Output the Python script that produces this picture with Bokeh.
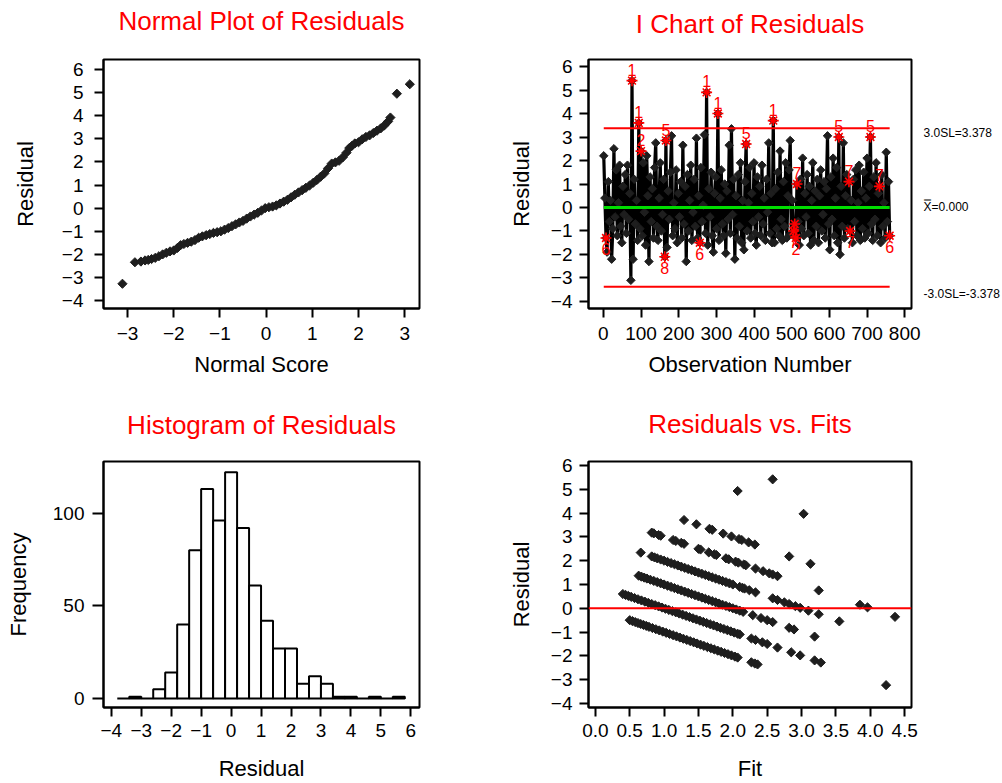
import math
from bokeh.plotting import figure
from bokeh.layouts import gridplot
from bokeh.models import Range1d, FixedTicker, LinearAxis, PrintfTickFormatter, Span
from bokeh.embed import file_html
from bokeh.resources import INLINE
from bokeh.core.properties import value

FONT = "Liberation Sans"
RED = "#ff0000"
GREEN = "#00dd00"
DOT = "#1e1e1e"

# ---------------- data ----------------
# Normal plot: (normal score, residual)
norm_score = [-3.11, -2.84, -2.71, -2.62, -2.55, -2.48, -2.40, -2.32, -2.24, -2.16, -2.08, -2.00,
              -1.92, -1.85, -1.78, -1.70, -1.62, -1.54, -1.46, -1.38, -1.30, -1.22, -1.14, -1.06,
              -0.98, -0.90, -0.82, -0.74, -0.66, -0.58, -0.50, -0.42, -0.34, -0.26, -0.18, -0.10,
              -0.02, 0.06, 0.14, 0.22, 0.30, 0.38, 0.46, 0.54, 0.62, 0.70, 0.78, 0.86, 0.94, 1.02,
              1.10, 1.18, 1.26, 1.34, 1.42, 1.50, 1.58, 1.66, 1.74, 1.80, 1.86, 1.92, 2.00, 2.08,
              2.16, 2.24, 2.32, 2.40, 2.48, 2.56, 2.64, 2.69, 2.83, 3.11]
norm_resid = [-3.27, -2.34, -2.31, -2.26, -2.24, -2.20, -2.15, -2.08, -2.00, -1.93, -1.87, -1.83,
              -1.72, -1.60, -1.55, -1.50, -1.45, -1.38, -1.28, -1.22, -1.17, -1.12, -1.07, -1.04,
              -1.00, -0.93, -0.86, -0.78, -0.70, -0.62, -0.55, -0.45, -0.36, -0.28, -0.20, -0.10,
              0.00, 0.04, 0.07, 0.12, 0.20, 0.28, 0.36, 0.47, 0.58, 0.68, 0.78, 0.88, 0.98, 1.10,
              1.22, 1.36, 1.50, 1.72, 1.93, 1.98, 2.05, 2.20, 2.40, 2.60, 2.70, 2.80, 2.85, 2.98,
              3.08, 3.15, 3.25, 3.35, 3.45, 3.58, 3.75, 3.92, 4.95, 5.36]

# I chart: residuals in observation order (every third observation)
obs = list(range(1, 761, 3))
i_resid = [
    2.2, 0.4, -1.3, -1.9, 1.1, -0.6, 0.3, -2.2, -0.9, 2.5,
    -0.4, 1.6, -1.2, 0.2, 1.8, -0.8, -1.5, 0.9, -0.3, 1.4,
    -1.1, 1.8, -0.5, 0.6, -3.1, 5.4, -2.2, 1.2, -0.7, 0.3,
    -1.4, 3.6, -0.9, 2.4, -1.2, 1.9, -0.2, -1.6, 2.2, 0.5,
    -2.3, 1.3, -0.6, 0.8, -1.3, 1.7, 2.75, -0.8, -1.4, 0.4,
    1.9, -1.0, -0.3, 1.2, -2.1, 2.85, -1.7, 0.7, -0.5, 1.5,
    3.05, -1.2, 0.2, -0.9, 1.6, -1.5, 0.6, -0.4, 1.1, -1.3,
    2.65, -0.7, 0.9, -2.3, 1.4, -1.0, 0.3, 1.8, -1.4, -0.2,
    1.2, -0.8, 2.95, -1.3, 0.5, -1.5, 1.7, -0.6, 0.1, 3.1,
    -1.1, 4.9, -1.6, 0.8, -0.4, 1.5, -1.2, -1.9, 0.6, 1.3,
    -0.9, 4.0, -1.4, 0.4, 1.6, -0.7, -1.2, 1.0, -1.95, 0.7,
    -0.5, 2.65, -1.1, 3.35, -0.3, 1.2, -2.2, 0.5, -1.3, 1.4,
    -0.8, 1.9, -1.5, 0.3, -1.8, 1.1, 2.7, -1.0, 0.2, 1.7,
    -1.3, 0.6, -0.6, 1.9, -1.1, -1.6, 1.3, -0.4, 0.9, -1.2,
    1.8, -0.7, 0.4, -1.4, 1.2, -0.2, 2.75, -1.1, 0.6, -1.5,
    3.7, -1.5, 0.8, -0.9, 1.5, -1.2, 2.4, -0.5, -1.4, 1.1,
    -0.8, 1.9, -1.3, 0.5, 1.6, 2.85, -1.1, 0.3, -1.0, -0.7,
    -1.3, 1.0, -0.6, -1.6, 1.2, -0.9, 2.1, -1.2, 0.6, -0.4,
    1.4, -1.1, 0.9, -1.6, 0.3, 1.9, -1.4, 0.7, -0.8, 1.2,
    -1.5, 0.5, 1.6, -1.0, -0.3, 1.1, -1.3, 0.8, 3.05, -0.7,
    -1.8, 1.3, -0.5, 2.1, -1.2, 0.4, 1.7, -1.5, 3.0, -2.0,
    0.9, -0.8, 2.75, -1.3, 0.5, 1.4, -0.9, 1.1, -1.0, 0.3,
    -1.5, 1.2, -0.6, 1.6, -1.2, 0.2, 1.8, -1.4, 0.7, -0.9,
    1.5, -1.3, 0.4, 2.1, -1.1, 0.9, 3.0, -0.7, -1.4, 1.3,
    -0.5, 1.9, -1.2, 0.6, 0.9, -1.5, 1.4, -0.8, 0.2, -1.3,
    2.35, -0.6, 1.1, -1.2,
]
ucl, center, lcl = 3.378, 0.0, -3.378
flag_obs = [7, 76, 94, 100, 163, 166, 256, 274, 304, 379, 451, 505, 508, 511, 514, 625, 652, 655, 709, 733, 760]
flag_test = ["6", "1", "1", "2", "8", "5", "6", "1", "1", "5", "1", "7", "7", "2", "7", "5", "7", "7", "5", "7", "6"]

# Histogram of residuals
hist_mid = [-3.6, -3.2, -2.8, -2.4, -2.0, -1.6, -1.2, -0.8, -0.4, 0.0, 0.4, 0.8,
            1.2, 1.6, 2.0, 2.4, 2.8, 3.2, 3.6, 4.0, 4.4, 4.8, 5.2, 5.6]
hist_count = [0, 1, 0, 5, 14, 40, 80, 113, 96, 122, 92, 61,
              42, 27, 27, 8, 12, 8, 1, 1, 0, 1, 0, 1]
bin_width = 0.4

# Residuals vs fits
fit_vals = [
    0.50, 0.54, 0.58, 0.62, 0.66, 0.70, 0.74, 0.78, 0.83, 0.88, 0.93, 0.98, 1.03, 1.08, 1.13, 1.18,
    1.23, 1.28, 1.33, 1.38, 1.43, 1.48, 1.53, 1.58, 1.63, 1.68, 1.73, 1.78, 1.83, 1.88, 1.93, 1.98,
    2.03, 2.07, 2.27, 2.32, 2.36,
    0.40, 0.44, 0.48, 0.52, 0.57, 0.62, 0.67, 0.72, 0.77, 0.82, 0.87, 0.92, 0.97, 1.02, 1.07, 1.12,
    1.17, 1.22, 1.27, 1.32, 1.37, 1.42, 1.47, 1.52, 1.57, 1.62, 1.67, 1.72, 1.77, 1.82, 1.87, 1.92,
    1.97, 2.02, 2.07, 2.10, 2.27, 2.33, 2.43, 2.50, 2.65, 2.85, 2.98, 3.19, 3.28, 4.23,
    0.63, 0.67, 0.71, 0.75, 0.80, 0.85, 0.90, 0.95, 1.00, 1.05, 1.10, 1.15, 1.20, 1.25, 1.30, 1.35,
    1.40, 1.45, 1.50, 1.55, 1.60, 1.65, 1.70, 1.75, 1.80, 1.85, 1.90, 1.95, 2.00, 2.05, 2.10, 2.15,
    2.29, 2.41, 2.50, 2.58, 2.82, 2.89, 3.19,
    0.66, 0.82, 0.86, 0.90, 0.95, 1.00, 1.05, 1.10, 1.15, 1.20, 1.25, 1.30, 1.35, 1.40, 1.45, 1.50,
    1.55, 1.60, 1.65, 1.70, 1.75, 1.80, 1.85, 1.90, 1.95, 2.00, 2.10, 2.14, 2.17, 2.24, 2.33, 2.58,
    2.65, 2.75, 2.82, 2.91, 2.98, 3.10, 3.25, 3.55,
    0.82, 0.85, 0.92, 0.95, 1.13, 1.17, 1.25, 1.29, 1.50, 1.53, 1.65, 1.73, 1.76, 1.90, 1.94, 2.04,
    2.08, 2.16, 2.19, 2.33, 2.44, 2.53, 2.58, 2.65, 3.25, 3.85, 3.96, 4.36,
    1.29, 1.47, 1.66, 1.70, 1.86, 1.98, 2.09, 2.13, 2.23, 2.32, 2.82, 3.13,
    2.07, 3.03, 2.58,
]
fit_resid = [
    -0.50, -0.54, -0.58, -0.62, -0.66, -0.70, -0.74, -0.78, -0.83, -0.88, -0.93, -0.98, -1.03, -1.08, -1.13, -1.18,
    -1.23, -1.28, -1.33, -1.38, -1.43, -1.48, -1.53, -1.58, -1.63, -1.68, -1.73, -1.78, -1.83, -1.88, -1.93, -1.98,
    -2.03, -2.07, -2.27, -2.32, -2.36,
    0.60, 0.56, 0.52, 0.48, 0.43, 0.38, 0.33, 0.28, 0.23, 0.18, 0.13, 0.08, 0.03, -0.02, -0.07, -0.12,
    -0.17, -0.22, -0.27, -0.32, -0.37, -0.42, -0.47, -0.52, -0.57, -0.62, -0.67, -0.72, -0.77, -0.82, -0.87, -0.92,
    -0.97, -1.02, -1.07, -1.10, -1.27, -1.33, -1.43, -1.50, -1.65, -1.85, -1.98, -2.19, -2.28, -3.23,
    1.37, 1.33, 1.29, 1.25, 1.20, 1.15, 1.10, 1.05, 1.00, 0.95, 0.90, 0.85, 0.80, 0.75, 0.70, 0.65,
    0.60, 0.55, 0.50, 0.45, 0.40, 0.35, 0.30, 0.25, 0.20, 0.15, 0.10, 0.05, 0.00, -0.05, -0.10, -0.15,
    -0.29, -0.41, -0.50, -0.58, -0.82, -0.89, -1.19,
    2.34, 2.18, 2.14, 2.10, 2.05, 2.00, 1.95, 1.90, 1.85, 1.80, 1.75, 1.70, 1.65, 1.60, 1.55, 1.50,
    1.45, 1.40, 1.35, 1.30, 1.25, 1.20, 1.15, 1.10, 1.05, 1.00, 0.90, 0.86, 0.83, 0.76, 0.67, 0.42,
    0.35, 0.25, 0.18, 0.09, 0.02, -0.10, -0.25, -0.55,
    3.18, 3.15, 3.08, 3.05, 2.87, 2.83, 2.75, 2.71, 2.50, 2.47, 2.35, 2.27, 2.24, 2.10, 2.06, 1.96,
    1.92, 1.84, 1.81, 1.67, 1.56, 1.47, 1.42, 1.35, 0.75, 0.15, 0.04, -0.36,
    3.71, 3.53, 3.34, 3.30, 3.14, 3.02, 2.91, 2.87, 2.77, 2.68, 2.18, 1.87,
    4.93, 3.97, 5.42,
]

resid_ticks = [-4, -3, -2, -1, 0, 1, 2, 3, 4, 5, 6]
limit_labels = {3.19: "3.0SL=3.378", 0.0: "X\u033f=0.000", -3.68: "-3.0SL=-3.378"}


# ---------------- helpers ----------------
def make_fig(w, h, xr, yr, title, bl, br, bt, bb, gap):
    p = figure(width=w, height=h, x_range=Range1d(*xr), y_range=Range1d(*yr),
               output_backend="svg", toolbar_location=None,
               min_border_left=bl, min_border_right=br, min_border_top=bt, min_border_bottom=bb,
               background_fill_color="white", border_fill_color="white")
    # panel heading drawn as the label of an empty axis above the frame
    head = LinearAxis(ticker=FixedTicker(ticks=[]), axis_line_color=None, major_tick_line_color=None,
                      minor_tick_line_color=None, major_tick_out=0, major_tick_in=0,
                      major_label_standoff=0, axis_label=title, axis_label_standoff=gap,
                      axis_label_text_font=FONT, axis_label_text_font_size="26px",
                      axis_label_text_font_style="normal", axis_label_text_color=RED)
    p.add_layout(head, "above")
    p.xgrid.visible = False
    p.ygrid.visible = False
    p.outline_line_color = "black"
    p.outline_line_width = 2
    p.outline_line_alpha = 1
    return p


def style_axes(p, xticks, yticks, xlabel, ylabel, xls, yls, xstand, ystand, ytick_out):
    xa, ya = p.below[0], p.left[0]
    xa.ticker = FixedTicker(ticks=xticks)
    ya.ticker = FixedTicker(ticks=yticks)
    xa.axis_label = xlabel
    ya.axis_label = ylabel
    for ax in [xa, ya]:
        ax.major_tick_in = 0
        ax.minor_tick_line_color = None
        ax.major_tick_line_width = 2
        ax.major_tick_line_color = "black"
        ax.axis_line_width = 2
        ax.axis_line_color = "black"
        ax.major_label_text_font = FONT
        ax.major_label_text_font_size = "19px"
        ax.major_label_text_color = "black"
        ax.axis_label_text_font = FONT
        ax.axis_label_text_font_size = "22px"
        ax.axis_label_text_font_style = "normal"
        ax.axis_label_text_color = "black"
    xa.major_tick_out = 9
    ya.major_tick_out = ytick_out
    xa.major_label_standoff = xls
    ya.major_label_standoff = yls
    xa.axis_label_standoff = xstand
    ya.axis_label_standoff = ystand


# ---------------- Normal plot ----------------
p1 = make_fig(501, 392, (-3.52, 3.32), (-4.34, 6.43), "Normal Plot of Residuals", 103, 82, 58, 83, 24)
p1.scatter(norm_score, norm_resid, marker="square", angle=math.pi / 4, size=6.5,
           fill_color=DOT, line_color=DOT)
style_axes(p1, [-3, -2, -1, 0, 1, 2, 3], resid_ticks, "Normal Score", "Residual", 9, 11, 9, 21, 9)

# ---------------- I chart ----------------
p2 = make_fig(501, 392, (-39.5, 818), (-4.30, 6.30), "I Chart of Residuals", 87, 88, 59, 84, 21)
p2.line(obs, i_resid, line_color="black", line_width=3.2)
p2.scatter(obs, i_resid, marker="square", angle=math.pi / 4, size=6, fill_color=DOT, line_color=DOT)
p2.line([obs[0], obs[-1]], [ucl, ucl], line_color=RED, line_width=2)
p2.line([obs[0], obs[-1]], [lcl, lcl], line_color=RED, line_width=2)
p2.line([obs[0], obs[-1]], [center, center], line_color=GREEN, line_width=3)
flag_y = [i_resid[obs.index(o)] for o in flag_obs]
p2.scatter(flag_obs, flag_y, marker="asterisk", size=11, line_color=RED, line_width=1.6)
up_x = [o for o, y in zip(flag_obs, flag_y) if y >= 0]
up_y = [y for y in flag_y if y >= 0]
up_t = [t for t, y in zip(flag_test, flag_y) if y >= 0]
dn_x = [o for o, y in zip(flag_obs, flag_y) if y < 0]
dn_y = [y for y in flag_y if y < 0]
dn_t = [t for t, y in zip(flag_test, flag_y) if y < 0]
p2.text(up_x, up_y, text=up_t, text_color=RED, text_font=value(FONT), text_font_size="16px",
        text_align="center", text_baseline="bottom", y_offset=-5)
p2.text(dn_x, dn_y, text=dn_t, text_color=RED, text_font=value(FONT), text_font_size="16px",
        text_align="center", text_baseline="top", y_offset=5)
rax = LinearAxis(ticker=FixedTicker(ticks=list(limit_labels.keys())),
                 major_label_overrides=limit_labels, axis_line_color=None,
                 major_tick_line_color=None, minor_tick_line_color=None, major_tick_out=0,
                 major_tick_in=0, major_label_standoff=12, major_label_text_font=FONT,
                 major_label_text_font_size="12px", major_label_text_color="black")
p2.add_layout(rax, "right")
style_axes(p2, [0, 100, 200, 300, 400, 500, 600, 700, 800], resid_ticks,
           "Observation Number", "Residual", 9, 7, 9, 14, 9)

# ---------------- Histogram ----------------
p3 = make_fig(501, 391, (-4.26, 6.29), (-4.8, 127.8), "Histogram of Residuals", 103, 73, 69, 74, 22)
p3.quad(left=[m - bin_width / 2 for m in hist_mid], right=[m + bin_width / 2 for m in hist_mid],
        bottom=0, top=hist_count, fill_color="white", line_color="black", line_width=2)
style_axes(p3, [-4, -3, -2, -1, 0, 1, 2, 3, 4, 5, 6], [0, 50, 100], "Residual", "Frequency", 7, 8, 16, 19, 11)

# ---------------- Residuals vs fits ----------------
p4 = make_fig(501, 391, (-0.10, 4.60), (-4.17, 6.17), "Residuals vs. Fits", 87, 88, 69, 74, 23)
p4.add_layout(Span(location=0, dimension="width", line_color=RED, line_width=2))
p4.scatter(fit_vals, fit_resid, marker="square", angle=math.pi / 4, size=6.5, fill_color=DOT, line_color=DOT)
style_axes(p4, [0.0, 0.5, 1.0, 1.5, 2.0, 2.5, 3.0, 3.5, 4.0, 4.5], resid_ticks, "Fit", "Residual", 7, 7, 16, 14, 9)
p4.below[0].formatter = PrintfTickFormatter(format="%.1f")

grid = gridplot([[p1, p2], [p3, p4]], toolbar_location=None)
open("out.html", "w").write(file_html(grid, INLINE))
